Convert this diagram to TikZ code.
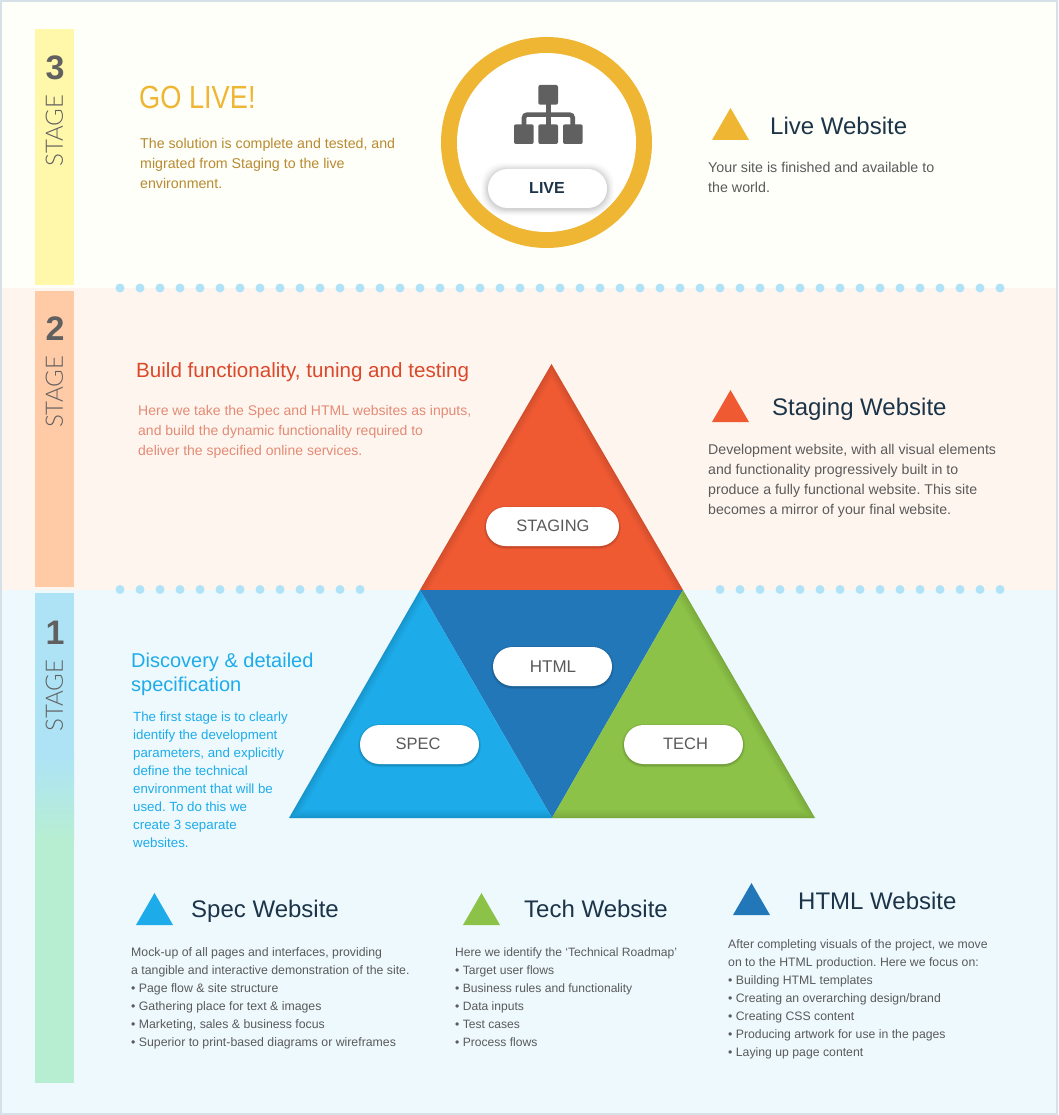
\documentclass[tikz,border=0pt]{standalone}
\usepackage{fontspec}
\setmainfont{Liberation Sans}
\newfontfamily\lightf{Lato Light}
\definecolor{bgA}{HTML}{FEFFF9}
\definecolor{bgB}{HTML}{FFF5EF}
\definecolor{bgC}{HTML}{EEF9FE}
\definecolor{frame}{HTML}{D5E0E8}
\definecolor{barA}{HTML}{FFF7AA}
\definecolor{barB}{HTML}{FFCBA6}
\definecolor{barC}{HTML}{AEE3F6}
\definecolor{barD}{HTML}{B7EED2}
\definecolor{dotc}{HTML}{B0E3F7}
\definecolor{gold}{HTML}{EEB633}
\definecolor{goldtxt}{HTML}{B98A30}
\definecolor{redc}{HTML}{F05A33}
\definecolor{redhead}{HTML}{D9492A}
\definecolor{redtxt}{HTML}{E28B75}
\definecolor{bluec}{HTML}{1DACE9}
\definecolor{navyc}{HTML}{2277B9}
\definecolor{greenc}{HTML}{8CC248}
\definecolor{ink}{HTML}{1C3448}
\definecolor{grayt}{HTML}{5A5A5A}
\definecolor{stagec}{HTML}{606060}
\newcommand{\tx}[7]{\node[anchor=north west,inner sep=0pt,align=left,text=#6,font=\frenchspacing\fontsize{#4}{#5}\selectfont] (#1) at (#2,#3-#4) {\rule{0pt}{#4pt}#7};}
\newcommand{\pill}[6]{%
  \foreach \s/\o in {#6}{\fill[black,opacity=\o,rounded corners=21pt] (#2-\s,#3-\s+1) rectangle (#4+\s,#5+\s+1);}
  \fill[white,rounded corners=19.5pt] (#2,#3) rectangle (#4,#5);}
\newcommand{\stagebar}[5]{%
  \node[font=\bfseries\fontsize{34}{34}\selectfont,text=stagec,inner sep=0pt] (num#1) at (55,#2) {#3};
  \node[rotate=90,font=\lightf\fontsize{#5}{#5}\selectfont,text=stagec,inner sep=0pt] (word#1) at (54.5,#4) {STAGE};}
\newcommand{\tri}[4]{\fill[#4] (#1) -- (#2) -- (#3) -- cycle;}
\newcommand{\edgeshade}[4]{%
  \begin{scope}
  \clip (#1) -- (#2) -- (#3) -- cycle;
  \foreach \w in {16,13,10,7,4,2}{\draw[black,opacity=.02,line width=\w pt,line join=miter] #4;}
  \end{scope}}
\begin{document}
\begin{tikzpicture}[x=1pt,y=-1pt]
\useasboundingbox (0,0) rectangle (1058,1115);
% backgrounds
\fill[frame] (0,0) rectangle (1058,1115);
\fill[bgA] (2,2) rectangle (1056,288);
\fill[bgB] (2,288) rectangle (1056,590);
\fill[bgC] (2,590) rectangle (1056,1113);
% stage bars
\fill[barA] (35,29) rectangle (74,285);
\fill[barB] (35,291) rectangle (74,587);
\fill[barC] (35,593) rectangle (74,755);
\shade[top color=barC,bottom color=barD] (35,755) rectangle (74,840);
\fill[barD] (35,840) rectangle (74,1083);
\stagebar{C}{67.5}{3}{130.5}{24}
\stagebar{B}{329}{2}{392}{24}
\stagebar{A}{632.5}{1}{695.5}{24}
% dots
\foreach \i in {0,...,44}{\fill[dotc] (120+20*\i,288) circle (4.5);}
\foreach \i in {0,...,12}{\fill[dotc] (120+20*\i,589.5) circle (4.5);}
\foreach \i in {0,...,14}{\fill[dotc] (720+20*\i,589.5) circle (4.5);}
% triangles
\coordinate (ap) at (551.5,364);
\coordinate (bl) at (420,590);
\coordinate (br) at (683,590);
\coordinate (sl) at (289,818);
\coordinate (sm) at (552,818);
\coordinate (sr) at (815,818);
\tri{ap}{bl}{br}{redc}
\edgeshade{ap}{bl}{br}{(bl) -- (ap) -- (br)}
\tri{bl}{br}{sm}{navyc}
\tri{bl}{sl}{sm}{bluec}
\edgeshade{bl}{sl}{sm}{(bl) -- (sl) -- (sm)}
\tri{br}{sm}{sr}{greenc}
\edgeshade{br}{sm}{sr}{(sm) -- (sr) -- (br)}
% go-live ring
\fill[gold] (546.5,142.5) circle (105.5);
\fill[white] (546.5,142.5) circle (89.5);
% icon
\begin{scope}[stagec]
\fill[rounded corners=2pt] (538.3,85) rectangle (558,104.7);
\fill[rounded corners=2pt] (514,124.3) rectangle (533.7,144);
\fill[rounded corners=2pt] (538.3,124.3) rectangle (558,144);
\fill[rounded corners=2pt] (563,124.3) rectangle (582.7,144);
\fill (545.7,104) rectangle (550.5,125);
\draw[line width=4.6pt,rounded corners=3pt] (524,125) -- (524,114.7) -- (572.7,114.7) -- (572.7,125);
\end{scope}
% pills
\pill{live}{488}{169}{607}{208}{7/.012,6/.014,5/.018,4/.022,3/.03,2/.035,1/.04}
\pill{stg}{486}{507}{619}{546}{2/.07,1/.1}
\pill{htm}{493}{647}{612}{686}{2/.07,1/.1}
\pill{spc}{360}{725}{479}{764}{2/.07,1/.1}
\pill{tch}{624}{725}{743}{764}{2/.07,1/.1}
\node[font=\bfseries\fontsize{16}{16}\selectfont,text=ink,inner sep=0pt] (tlive) at (547,188) {LIVE};
\node[font=\fontsize{16.5}{16}\selectfont,text=grayt,inner sep=0pt] (tstg) at (553,526) {STAGING};
\node[font=\fontsize{17}{16}\selectfont,text=grayt,inner sep=0pt] (thtm) at (553,667) {HTML};
\node[font=\fontsize{16.5}{16}\selectfont,text=grayt,inner sep=0pt] (tspc) at (418,744) {SPEC};
\node[font=\fontsize{16.5}{16}\selectfont,text=grayt,inner sep=0pt] (ttch) at (685.5,744) {TECH};
% legend triangles
\fill[gold] (712,140) -- (730.5,108) -- (749,140) -- cycle;
\fill[redc] (712,422) -- (730.5,390) -- (749,422) -- cycle;
\fill[bluec] (136,925) -- (154.5,893) -- (173,925) -- cycle;
\fill[greenc] (463,925) -- (481.5,893) -- (500,925) -- cycle;
\fill[navyc] (733,915) -- (751.5,883) -- (770,915) -- cycle;
% texts
\tx{golive}{139}{108}{32}{32}{gold}{\scalebox{.85}[1]{GO LIVE!}}
\tx{golivet}{140}{148}{14.2}{20}{goldtxt}{The solution is complete and tested, and\\migrated from Staging to the live\\environment.}
\tx{livew}{770}{134}{24}{24}{ink}{Live Website}
\tx{livewt}{708}{172}{14.25}{20}{grayt}{Your site is finished and available to\\the world.}
\tx{buildh}{136}{377}{20.6}{20}{redhead}{Build functionality, tuning and testing}
\tx{buildt}{138}{415}{14}{20}{redtxt}{Here we take the Spec and HTML websites as inputs,\\and build the dynamic functionality required to\\deliver the specified online services.}
\tx{stgw}{772}{415}{24}{24}{ink}{Staging Website}
\tx{stgwt}{708}{454}{14.15}{20}{grayt}{Development website, with all visual elements\\and functionality progressively built in to\\produce a fully functional website. This site\\becomes a mirror of your final website.}
\tx{disch}{131}{667}{20}{24}{bluec}{Discovery \& detailed\\specification}
\tx{disct}{133}{721}{13.3}{18}{bluec}{The first stage is to clearly\\identify the development\\parameters, and explicitly\\define the technical\\environment that will be\\used. To do this we\\create 3 separate\\websites.}
\tx{specw}{191}{917}{24}{24}{ink}{Spec Website}
\tx{specwt}{131}{956}{12.3}{18}{grayt}{Mock-up of all pages and interfaces, providing\\a tangible and interactive demonstration of the site.\\• Page flow \& site structure\\• Gathering place for text \& images\\• Marketing, sales \& business focus\\• Superior to print-based diagrams or wireframes}
\tx{techw}{524}{917}{24}{24}{ink}{Tech Website}
\tx{techwt}{455}{956}{12.1}{18}{grayt}{Here we identify the ‘Technical Roadmap’\\• Target user flows\\• Business rules and functionality\\• Data inputs\\• Test cases\\• Process flows}
\tx{htmlw}{798}{909}{24}{24}{ink}{HTML Website}
\tx{htmlwt}{728}{948}{12.25}{18}{grayt}{After completing visuals of the project, we move\\on to the HTML production. Here we focus on:\\• Building HTML templates\\• Creating an overarching design/brand\\• Creating CSS content\\• Producing artwork for use in the pages\\• Laying up page content}
\end{tikzpicture}
\end{document}
